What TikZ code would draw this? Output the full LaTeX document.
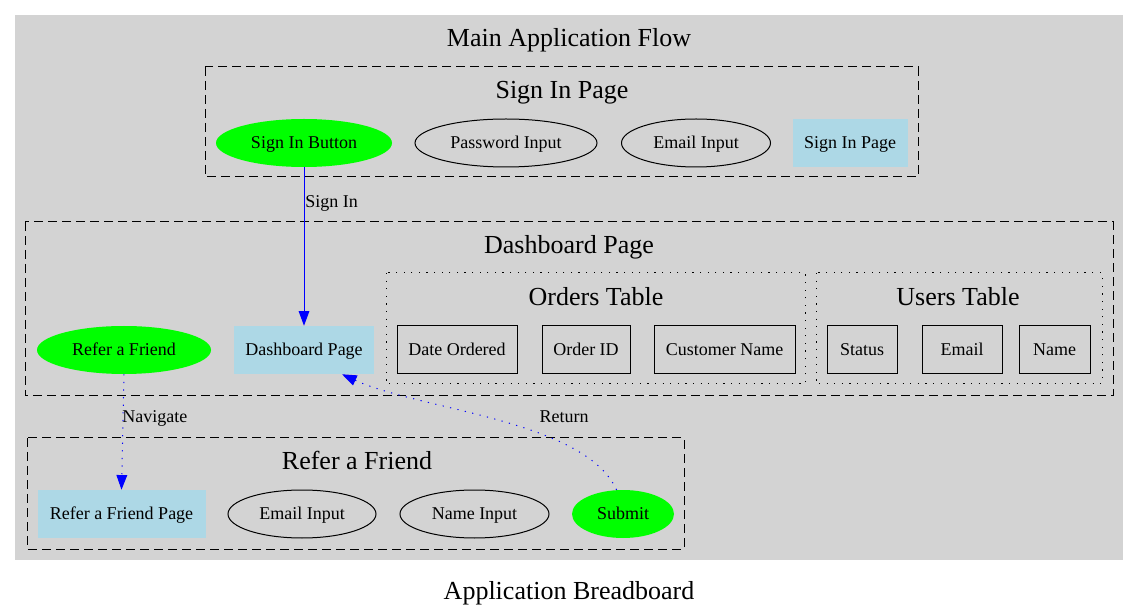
\documentclass[tikz,border=0pt]{standalone}
\usepackage{fontspec}
\setmainfont{Liberation Serif}
\usetikzlibrary{arrows.meta,shapes.geometric}
\definecolor{bggray}{HTML}{D3D3D3}
\definecolor{lblue}{HTML}{ADD8E6}
\definecolor{ggreen}{HTML}{00FF00}
\tikzset{
  px/.style={x=0.75pt,y=-0.75pt},
  base/.style={inner sep=0pt,font=\fontsize{13.5}{15}\selectfont,minimum height=36pt,text height=8.9pt,text depth=0pt},
  ell/.style={base,ellipse,draw=black,line width=0.75pt},
  gell/.style={base,ellipse,fill=ggreen},
  pagebox/.style={base,rectangle,fill=lblue},
  colbox/.style={base,rectangle,draw=black,line width=0.75pt},
  clusterdash/.style={draw=black,line width=0.75pt,dash pattern=on 6.75pt off 3.75pt},
  clusterdot/.style={draw=black,line width=0.75pt,dash pattern=on 0.9pt off 4.8pt},
  ctitle/.style={font=\fontsize{19.5}{22}\selectfont,inner sep=0pt,text height=12.9pt,text depth=0pt},
  elabel/.style={font=\fontsize{13.5}{15}\selectfont,inner sep=0pt,text height=8.9pt,text depth=0pt},
  flow/.style={draw=blue,line width=0.75pt,-{Triangle[length=11pt,width=8pt]}},
  flowdot/.style={flow,dash pattern=on 0.9pt off 4.8pt}
}
\begin{document}
\begin{tikzpicture}[px]
\useasboundingbox (0,0) rectangle (1139,616);
% main cluster
\fill[bggray] (15,15) rectangle (1123,560);
\node[ctitle] (tmain) at (569,37.5) {Main Application Flow};
\node[ctitle] (tgraph) at (569,590.5) {Application Breadboard};
% sign in cluster
\draw[clusterdash] (205,67) rectangle (918,177);
\node[ctitle] (tsign) at (562,89.5) {Sign In Page};
\node[gell,minimum width=132pt] (sib) at (304,143) {Sign In Button};
\node[ell,minimum width=136.5pt] (pwd) at (506,143) {Password Input};
\node[ell,minimum width=111.75pt] (em1) at (696,143) {Email Input};
\node[pagebox,minimum width=86.25pt] (sip) at (850,143) {Sign In Page};
% dashboard cluster
\draw[clusterdash] (25,222) rectangle (1113,396);
\node[ctitle] (tdash) at (569,245) {Dashboard Page};
\draw[clusterdot] (386,273) rectangle (805,384);
\node[ctitle] (tord) at (596,296.5) {Orders Table};
\draw[clusterdot] (816,273) rectangle (1102,384);
\node[ctitle] (tusr) at (958,296.5) {Users Table};
\node[gell,minimum width=130.5pt] (raf) at (124,350) {Refer a Friend};
\node[pagebox,minimum width=105pt] (dash) at (304,350) {Dashboard Page};
\node[colbox,minimum width=90pt] (dord) at (457,350) {Date Ordered};
\node[colbox,minimum width=66pt] (oid) at (586,350) {Order ID};
\node[colbox,minimum width=105.75pt] (cname) at (724.5,350) {Customer Name};
\node[colbox,minimum width=52.5pt] (stat) at (862,350) {Status};
\node[colbox,minimum width=60pt] (uem) at (962,350) {Email};
\node[colbox,minimum width=53.25pt] (uname) at (1054.5,350) {Name};
% refer cluster
\draw[clusterdash] (27,438) rectangle (684,549);
\node[ctitle] (tref) at (357,460.5) {Refer a Friend};
\node[pagebox,minimum width=126pt] (rafp) at (121.5,514) {Refer a Friend Page};
\node[ell,minimum width=111pt] (em2) at (302,514) {Email Input};
\node[ell,minimum width=111.75pt] (nin) at (474.5,514) {Name Input};
\node[gell,minimum width=76.5pt] (sub) at (623,514) {Submit};
% edges
\draw[flow] (sib.south) -- (dash.north);
\node[elabel,anchor=west] (lsign) at (305,202) {Sign In};
\draw[flowdot] (raf.south) -- (rafp.north);
\node[elabel,anchor=west] (lnav) at (122,417) {Navigate};
\coordinate (retend) at ([xshift=28.5pt]dash.south);
\draw[flowdot] (sub.105) .. controls (585,420) and (420,410) .. (retend);
\node[elabel] (lret) at (564,417) {Return};
\end{tikzpicture}
\end{document}
